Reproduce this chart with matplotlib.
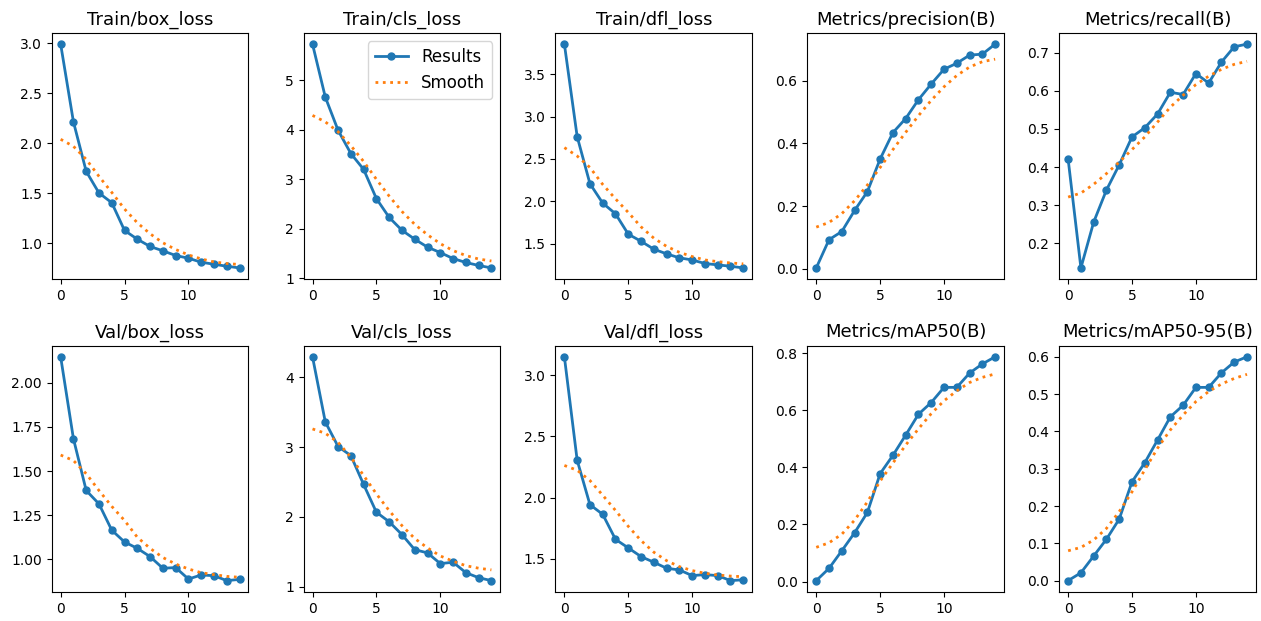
import matplotlib
matplotlib.use("Agg")
import matplotlib.pyplot as plt

# epochs
epochs = list(range(15))

titles = ["Train/box_loss", "Train/cls_loss", "Train/dfl_loss",
          "Metrics/precision(B)", "Metrics/recall(B)",
          "Val/box_loss", "Val/cls_loss", "Val/dfl_loss",
          "Metrics/mAP50(B)", "Metrics/mAP50-95(B)"]

# results
train_box = [2.99, 2.215, 1.72, 1.504, 1.407, 1.13, 1.043, 0.97, 0.927, 0.88, 0.853, 0.813, 0.793, 0.773, 0.756]
train_cls = [5.73, 4.66, 3.99, 3.52, 3.20, 2.61, 2.23, 1.97, 1.79, 1.63, 1.52, 1.40, 1.32, 1.26, 1.21]
train_dfl = [3.854, 2.764, 2.209, 1.98, 1.854, 1.614, 1.53, 1.437, 1.382, 1.335, 1.31, 1.268, 1.252, 1.236, 1.216]
precision = [0.003, 0.093, 0.119, 0.186, 0.246, 0.35, 0.434, 0.479, 0.539, 0.589, 0.636, 0.655, 0.681, 0.684, 0.716]
recall = [0.421, 0.136, 0.256, 0.340, 0.406, 0.479, 0.503, 0.539, 0.596, 0.590, 0.645, 0.620, 0.675, 0.715, 0.722]
val_box = [2.148, 1.684, 1.39, 1.314, 1.165, 1.098, 1.062, 1.015, 0.949, 0.953, 0.888, 0.911, 0.907, 0.879, 0.886]
val_cls = [4.297, 3.363, 3.01, 2.88, 2.465, 2.067, 1.93, 1.746, 1.53, 1.484, 1.33, 1.35, 1.20, 1.128, 1.086]
val_dfl = [3.15, 2.306, 1.943, 1.864, 1.66, 1.59, 1.519, 1.473, 1.424, 1.41, 1.364, 1.372, 1.364, 1.323, 1.33]
map50 = [0.0035, 0.0465, 0.108, 0.171, 0.242, 0.378, 0.442, 0.513, 0.586, 0.627, 0.680, 0.680, 0.730, 0.762, 0.787]
map50_95 = [0.0, 0.021, 0.066, 0.111, 0.165, 0.265, 0.316, 0.377, 0.439, 0.470, 0.518, 0.518, 0.557, 0.586, 0.60]

# smoothed curves
train_box_s = [2.04, 1.97, 1.84, 1.67, 1.51, 1.344, 1.207, 1.097, 1.007, 0.94, 0.886, 0.846, 0.816, 0.80, 0.79]
train_cls_s = [4.29, 4.16, 3.96, 3.68, 3.36, 3.0, 2.66, 2.35, 2.09, 1.88, 1.70, 1.56, 1.46, 1.39, 1.35]
train_dfl_s = [2.634, 2.535, 2.40, 2.2, 2.03, 1.87, 1.70, 1.567, 1.47, 1.40, 1.35, 1.31, 1.29, 1.275, 1.264]
precision_s = [0.133, 0.148, 0.176, 0.217, 0.267, 0.323, 0.38, 0.435, 0.488, 0.537, 0.58, 0.616, 0.643, 0.66, 0.668]
recall_s = [0.3215, 0.332, 0.355, 0.383, 0.413, 0.446, 0.479, 0.518, 0.557, 0.588, 0.616, 0.638, 0.656, 0.669, 0.677]
val_box_s = [1.591, 1.56, 1.485, 1.39, 1.30, 1.22, 1.125, 1.062, 1.01, 0.973, 0.945, 0.924, 0.913, 0.903, 0.898]
val_cls_s = [3.262, 3.20, 3.07, 2.856, 2.594, 2.33, 2.09, 1.875, 1.69, 1.555, 1.44, 1.364, 1.30, 1.264, 1.24]
val_dfl_s = [2.263, 2.224, 2.14, 2.02, 1.896, 1.766, 1.65, 1.555, 1.486, 1.437, 1.405, 1.383, 1.369, 1.36, 1.355]
map50_s = [0.12, 0.136, 0.166, 0.215, 0.279, 0.352, 0.415, 0.478, 0.535, 0.588, 0.633, 0.668, 0.697, 0.715, 0.727]
map50_95_s = [0.08, 0.089, 0.109, 0.14, 0.185, 0.238, 0.297, 0.355, 0.404, 0.444, 0.48, 0.507, 0.527, 0.542, 0.553]

results = [train_box, train_cls, train_dfl, precision, recall,
           val_box, val_cls, val_dfl, map50, map50_95]
smooth = [train_box_s, train_cls_s, train_dfl_s, precision_s, recall_s,
          val_box_s, val_cls_s, val_dfl_s, map50_s, map50_95_s]

# y tick density per panel, to get the same ticks as the reference
y_nbins = [7, 7, 7, 7, 7, 6, 7, 7, 7, 7]

fig, axes = plt.subplots(2, 5, figsize=(12.61, 6.21), dpi=100)
fig.subplots_adjust(left=0.041, right=0.996, bottom=0.047, top=0.947,
                    wspace=0.28, hspace=0.27)
axes = axes.ravel()

for i, ax in enumerate(axes):
    ax.plot(epochs, results[i], marker='.', markersize=10, linewidth=2, label='Results')
    ax.plot(epochs, smooth[i], ':', linewidth=2, label='Smooth')
    ax.set_title(titles[i], fontsize=13)
    ax.tick_params(labelsize=10)
    ax.locator_params(axis='x', nbins=5)
    ax.locator_params(axis='y', nbins=y_nbins[i])

axes[1].legend(loc='upper right', fontsize=12)

plt.savefig("out.png", dpi=100)
